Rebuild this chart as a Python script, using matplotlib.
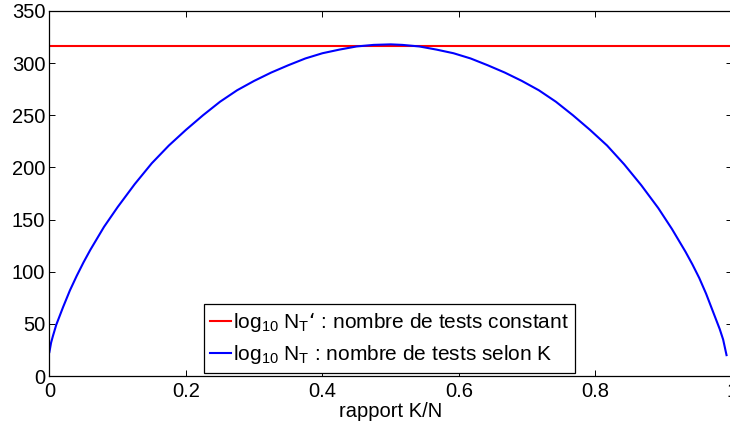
import matplotlib
matplotlib.use("Agg")
import matplotlib.pyplot as plt

# --- data ---
RATIO = [0.0, 0.0025, 0.005, 0.01, 0.02, 0.03, 0.04, 0.05, 0.06, 0.08, 0.1,
         0.125, 0.15, 0.175, 0.2, 0.225, 0.25, 0.275, 0.3, 0.325, 0.35,
         0.375, 0.4, 0.425, 0.45, 0.475, 0.5,
         0.517, 0.542, 0.567, 0.592, 0.617, 0.642, 0.667, 0.692, 0.717,
         0.742, 0.767, 0.792, 0.817, 0.842, 0.867, 0.892, 0.912, 0.932,
         0.942, 0.952, 0.962, 0.972, 0.982, 0.987, 0.992]
LOG_NT = [23, 32, 38, 49, 66, 82, 96, 109, 121, 143, 162,
          184, 204, 221, 236, 250, 263, 274, 283, 291, 298,
          304.5, 309.5, 313, 316, 317.5, 318,
          317.5, 316, 313, 309.5, 304.5, 298, 291, 283, 274,
          263, 250, 236, 221, 203, 183, 161, 141, 119,
          107, 94, 79, 62, 45, 35, 20]
CONST_X = [0.0, 1.0]
CONST_NT = [316, 316]

LABEL_CONST = "log$_{10}$ N$_T$\u2018 : nombre de tests constant"
LABEL_K = "log$_{10}$ N$_T$ : nombre de tests selon K"
X_TICKS = [0, 0.2, 0.4, 0.6, 0.8, 1]
X_TICK_LABELS = ["0", "0.2", "0.4", "0.6", "0.8", "1"]
Y_TICKS = [0, 50, 100, 150, 200, 250, 300, 350]

plt.rcParams["font.family"] = ["Liberation Sans", "DejaVu Sans"]
plt.rcParams["mathtext.default"] = "regular"
FS = 14.5


def main() -> None:
    fig = plt.figure(figsize=(7.30, 4.28), dpi=100)
    ax = fig.add_axes([49.4 / 730, 52 / 428, 682.6 / 730, 365 / 428])

    ax.plot(CONST_X, CONST_NT, color="#ff0000", lw=1.5, label=LABEL_CONST)
    ax.plot(RATIO, LOG_NT, color="#0000ff", lw=1.5, label=LABEL_K)

    ax.set_xlim(0, 1)
    ax.set_ylim(0, 350)
    ax.set_xticks(X_TICKS)
    ax.set_xticklabels(X_TICK_LABELS)
    ax.set_yticks(Y_TICKS)
    ax.tick_params(direction="in", length=4, width=0.7, labelsize=FS,
                   top=True, right=True)
    ax.tick_params(axis="x", pad=4)
    ax.tick_params(axis="y", pad=3)
    for sp in ax.spines.values():
        sp.set_linewidth(0.9)

    ax.set_xlabel("rapport K/N", fontsize=FS, labelpad=1)

    leg = ax.legend(loc="lower left", bbox_to_anchor=(0.2265, 0.009),
                    borderaxespad=0, fontsize=15, handlelength=1.0,
                    handletextpad=0.1, labelspacing=0.45, borderpad=0.3,
                    fancybox=False, framealpha=1, edgecolor="black")
    leg.get_frame().set_linewidth(0.9)

    fig.savefig("out.png", dpi=100)
    plt.close(fig)


if __name__ == "__main__":
    main()
